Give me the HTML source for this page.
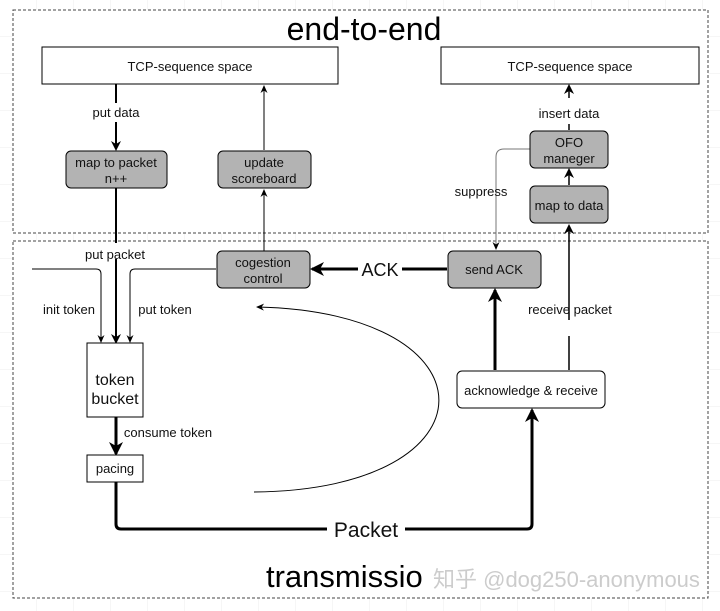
<!DOCTYPE html>
<html><head><meta charset="utf-8"><style>
html,body{margin:0;padding:0;background:#fff;}
svg{display:block;font-family:"Liberation Sans","Noto Sans CJK SC",sans-serif;}
</style></head><body>
<svg width="720" height="611" viewBox="0 0 720 611" xmlns="http://www.w3.org/2000/svg">
<defs>
<pattern id="g" width="37" height="37" patternUnits="userSpaceOnUse"><path d="M37 0V37H0" fill="none" stroke="#ececec" stroke-width="1"/></pattern>
<marker id="a" markerWidth="10" markerHeight="10" refX="8" refY="5" orient="auto" markerUnits="userSpaceOnUse"><path d="M0,0 L10,5 L0,10 L3,5Z" fill="#000"/></marker>
<marker id="s" markerWidth="8" markerHeight="8" refX="7" refY="4" orient="auto" markerUnits="userSpaceOnUse"><path d="M0,0.5 L8,4 L0,7.5 L2.5,4Z" fill="#000"/></marker>
<marker id="b" markerWidth="14" markerHeight="14" refX="12" refY="7" orient="auto" markerUnits="userSpaceOnUse"><path d="M0,0 L14,7 L0,14 L4,7Z" fill="#000"/></marker>
</defs>
<rect width="720" height="611" fill="url(#g)"/>
<rect x="13" y="10" width="695" height="223" fill="#fff" stroke="#444" stroke-dasharray="3,2"/>
<rect x="13" y="241" width="695" height="357" fill="#fff" stroke="#444" stroke-dasharray="3,2"/>
<text x="364" y="40" font-size="32" text-anchor="middle">end-to-end</text>
<text x="266" y="587" font-size="31">transmissio</text>
<text x="433" y="587" font-size="22" fill="#ccc">知乎 @dog250-anonymous</text>

<g stroke="#000" fill="none">
<path d="M116 84V103" stroke-width="2"/>
<path d="M116 122V149" stroke-width="2" marker-end="url(#a)"/>
<path d="M116 188V243" stroke-width="2"/>
<path d="M116 259V342" stroke-width="2" marker-end="url(#a)"/>
<path d="M264 150V86" stroke-width="1" marker-end="url(#s)"/>
<path d="M264 251V190" stroke-width="1" marker-end="url(#s)"/>
<path d="M32 269H96Q101 269 101 274V342" stroke-width="1" marker-end="url(#s)"/>
<path d="M216 269H135Q130 269 130 274V342" stroke-width="1" marker-end="url(#s)"/>
<path d="M116 417V454" stroke-width="3" marker-end="url(#b)"/>
<path d="M116 482V524Q116 529 121 529H327" stroke-width="3"/>
<path d="M405 529H527Q532 529 532 524V410" stroke-width="3" marker-end="url(#b)"/>
<path d="M447 269H402" stroke-width="3"/>
<path d="M358 269H312" stroke-width="3" marker-end="url(#b)"/>
<path d="M495 370V290" stroke-width="3" marker-end="url(#b)"/>
<path d="M569 370V336" stroke-width="1.5"/>
<path d="M569 320V226" stroke-width="1.5" marker-end="url(#a)"/>
<path d="M569 185V170" stroke-width="1.5" marker-end="url(#a)"/>
<path d="M569 130V124" stroke-width="1.5"/>
<path d="M569 98V86" stroke-width="1.5" marker-end="url(#a)"/>
<path d="M530 149H504Q496 149 496 157V249" stroke="#777" stroke-width="1" marker-end="url(#s)"/>
<path d="M254 492C500 490 500 312 257 307" stroke-width="1" marker-end="url(#s)"/>
</g>

<g stroke="#000" stroke-width="1">
<rect x="42" y="47" width="296" height="37" fill="#fff"/>
<rect x="441" y="47" width="258" height="37" fill="#fff"/>
<rect x="66" y="151" width="101" height="37" rx="5" fill="#b3b3b3"/>
<rect x="218" y="151" width="93" height="37" rx="5" fill="#b3b3b3"/>
<rect x="530" y="131" width="78" height="37" rx="5" fill="#b3b3b3"/>
<rect x="530" y="186" width="78" height="37" rx="5" fill="#b3b3b3"/>
<rect x="217" y="251" width="93" height="37" rx="5" fill="#b3b3b3"/>
<rect x="448" y="251" width="93" height="37" rx="5" fill="#b3b3b3"/>
<rect x="457" y="371" width="148" height="37" rx="5" fill="#fff"/>
<rect x="87" y="343" width="56" height="74" fill="#fff"/>
<rect x="87" y="455" width="56" height="27" fill="#fff"/>
</g>

<g font-size="13" text-anchor="middle" fill="#111">
<text x="190" y="71">TCP-sequence space</text>
<text x="570" y="71">TCP-sequence space</text>
<text x="116" y="167">map to packet</text><text x="116" y="183">n++</text>
<text x="264" y="167">update</text><text x="264" y="183">scoreboard</text>
<text x="569" y="147">OFO</text><text x="569" y="163">maneger</text>
<text x="569" y="210">map to data</text>
<text x="263" y="267">cogestion</text><text x="263" y="283">control</text>
<text x="494" y="274">send ACK</text>
<text x="531" y="395">acknowledge &amp; receive</text>
<text x="115" y="385" font-size="16">token</text><text x="115" y="404" font-size="16">bucket</text>
<text x="115" y="473">pacing</text>
<text x="116" y="117">put data</text>
<text x="115" y="259">put packet</text>
<text x="69" y="314">init  token</text>
<text x="165" y="314">put token</text>
<text x="168" y="437">consume token</text>
<text x="569" y="118">insert data</text>
<text x="481" y="196">suppress</text>
<text x="570" y="314">receive packet</text>
<text x="380" y="276" font-size="18">ACK</text>
<text x="366" y="537" font-size="21">Packet</text>
</g>
</svg>
</body></html>
